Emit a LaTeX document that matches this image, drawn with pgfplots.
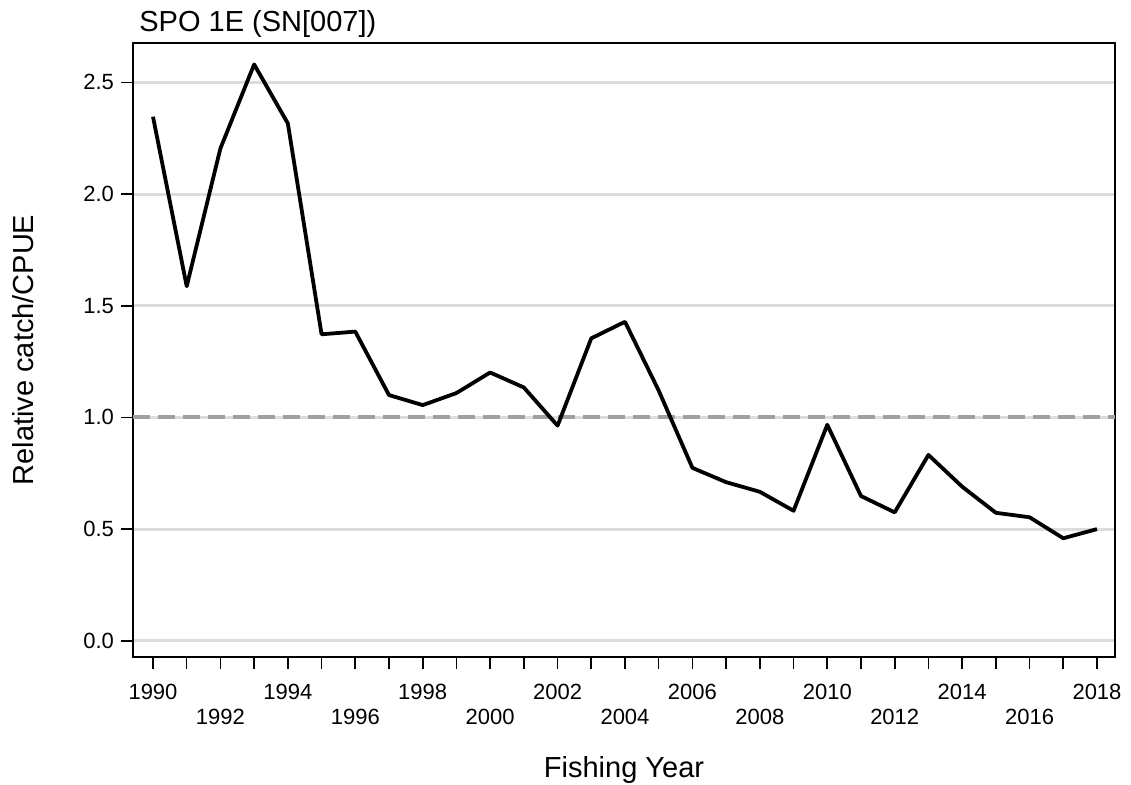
\documentclass[border=0pt]{standalone}
\usepackage{pgfplots}
\usepackage{pgfplotstable}
\pgfplotsset{compat=1.18}
\usepackage{fontspec}
\setmainfont{Liberation Sans}

\definecolor{gridgray}{HTML}{DCDCDC}
\definecolor{refgray}{HTML}{A0A0A0}

% relative catch/CPUE index by fishing year
\pgfplotstableread{
year cpue
1990 2.346
1991 1.587
1992 2.204
1993 2.580
1994 2.316
1995 1.372
1996 1.384
1997 1.100
1998 1.055
1999 1.109
2000 1.201
2001 1.134
2002 0.963
2003 1.354
2004 1.428
2005 1.120
2006 0.774
2007 0.710
2008 0.667
2009 0.582
2010 0.967
2011 0.648
2012 0.575
2013 0.832
2014 0.690
2015 0.573
2016 0.553
2017 0.459
2018 0.500
}\cpuedata

\begin{document}
\begin{tikzpicture}
\begin{axis}[
  at={(0,0)}, anchor=south west,
  scale only axis, width=491pt, height=307pt,
  xmin=1989.407, xmax=2018.534,
  ymin=-0.0725, ymax=2.676,
  axis line style={line width=1pt},
  tick align=outside,
  major tick length=6pt, minor tick length=6pt,
  tick style={black, line width=0.8pt},
  xtick pos=bottom, ytick pos=left,
  xtick={1990,1994,...,2018},
  minor xtick={1990,...,2018},
  extra x ticks={1992,1996,...,2016},
  xticklabel style={yshift=-4pt},
  extra x tick style={xticklabel style={yshift=-12.5pt}},
  ytick={0,0.5,1,1.5,2,2.5},
  ymajorgrids,
  grid style={line width=1.5pt, gridgray},
  /pgf/number format/assume math mode=true,
  /pgf/number format/1000 sep={},
  yticklabel style={/pgf/number format/fixed,
    /pgf/number format/fixed zerofill,
    /pgf/number format/precision=1},
  tick label style={font=\fontsize{11}{13}\selectfont},
  label style={font=\fontsize{14.5}{17}\selectfont},
  xlabel={Fishing Year},
  ylabel={Relative catch/CPUE},
  xlabel style={at={(axis description cs:0.5,-0.197)}, anchor=base, inner sep=0},
  ylabel style={at={(axis description cs:-0.1018,0.5)}, anchor=base, inner sep=0},
  title={SPO 1E (SN[007])},
  title style={at={(axis description cs:0,1)}, anchor=base west, inner sep=0,
    xshift=3pt, yshift=-0.5pt, font=\fontsize{14.5}{17}\selectfont},
]
  \addplot[refgray, line width=2pt, dash pattern=on 8.3pt off 4.2pt, forget plot]
    coordinates {(1989.407,1) (2018.534,1)};
  \addplot[black, line width=1.9pt, line join=round, mark=none]
    table[x=year, y=cpue] {\cpuedata};
\end{axis}
\pgfresetboundingbox
\useasboundingbox (-66.5pt,-64pt) rectangle (499pt,328.5pt);
\end{tikzpicture}
\end{document}
